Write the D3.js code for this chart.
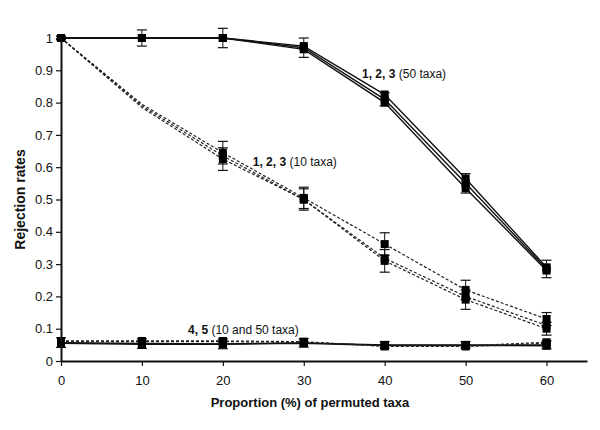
<!DOCTYPE html>
<html>
<head>
<meta charset="utf-8">
<script src="https://cdn.jsdelivr.net/npm/d3@7"></script>
<style>
  body { margin: 0; background: #fff; }
  svg text { font-family: "Liberation Sans", Arial, sans-serif; }
</style>
</head>
<body>
<div id="chart"></div>
<script>
// proportion of permuted taxa (%)
const proportions = [0, 10, 20, 30, 40, 50, 60];
const yTicks = [0, 0.1, 0.2, 0.3, 0.4, 0.5, 0.6, 0.7, 0.8, 0.9, 1];

// tests 1, 2, 3 with 50 taxa (solid)
const t1_50 = [1, 1, 1, 0.975, 0.825, 0.565, 0.29];
const t2_50 = [1, 1, 1, 0.97, 0.81, 0.55, 0.285];
const t3_50 = [1, 1, 1, 0.965, 0.80, 0.535, 0.28];
const err50 = [0.005, 0.025, 0.03, 0.03, 0.02, 0.03, 0.027];

// tests 1, 2, 3 with 10 taxa (dashed); no marker at 10 %
const t1_10 = [1, 0.795, 0.645, 0.505, 0.362, 0.22, 0.13];
const t2_10 = [1, 0.79, 0.635, 0.50, 0.318, 0.20, 0.11];
const t3_10 = [1, 0.785, 0.625, 0.50, 0.31, 0.19, 0.10];
const err10 = [0.005, null, 0.035, 0.033, 0.035, 0.03, 0.02];

// tests 4, 5 (10 and 50 taxa)
const t4_50 = [0.055, 0.052, 0.052, 0.055, 0.048, 0.048, 0.047];
const t5_50 = [0.057, 0.054, 0.053, 0.056, 0.05, 0.05, 0.05];
const t4_10 = [0.062, 0.062, 0.062, 0.06, 0.045, 0.045, 0.055];
const t5_10 = [0.06, 0.06, 0.06, 0.058, 0.047, 0.047, 0.058];
const err45 = [0.015, 0.015, 0.015, 0.013, 0.01, 0.01, 0.012];

// bars: draw error bars for this series (one per group, they overlap otherwise)
const series = [
  { v: t1_50, err: err50, dash: null, bars: false },
  { v: t2_50, err: err50, dash: null, bars: true },
  { v: t3_50, err: err50, dash: null, bars: false },
  { v: t1_10, err: err10, dash: '3,2', bars: true },
  { v: t2_10, err: err10, dash: '3,2', bars: false },
  { v: t3_10, err: err10, dash: '3,2', bars: true },
  { v: t4_50, err: err45, dash: null, bars: false },
  { v: t5_50, err: err45, dash: null, bars: true },
  { v: t4_10, err: err45, dash: '3,2', bars: false },
  { v: t5_10, err: err45, dash: '3,2', bars: false }
];

const width = 600, height = 430;
const margin = { top: 38, right: 13, bottom: 69, left: 61 };

const svg = d3.select('#chart').append('svg')
  .attr('width', width)
  .attr('height', height);

const x = d3.scaleLinear().domain([0, 65]).range([margin.left, width - margin.right]);
const y = d3.scaleLinear().domain([0, 1]).range([height - margin.bottom, margin.top]);

// lines
const line = d3.line()
  .x((d, i) => x(proportions[i]))
  .y(d => y(d));

svg.selectAll('.series')
  .data(series)
  .enter()
  .append('path')
  .attr('class', 'series')
  .attr('d', d => line(d.v))
  .attr('fill', 'none')
  .attr('stroke', d => d.dash ? '#222' : '#111')
  .attr('stroke-width', d => d.dash ? 1.2 : 1.4)
  .attr('stroke-dasharray', d => d.dash);

// error bars + markers
const pts = [];
series.forEach(s => {
  s.v.forEach((v, i) => {
    if (s.err[i] !== null) pts.push({ x: proportions[i], v: v, e: s.err[i], bars: s.bars });
  });
});

const g = svg.append('g');
pts.filter(p => p.bars).forEach(p => {
  const cx = x(p.x);
  g.append('line')
    .attr('x1', cx).attr('x2', cx)
    .attr('y1', y(p.v + p.e)).attr('y2', y(p.v - p.e))
    .attr('stroke', '#111').attr('stroke-width', 1);
  [p.v + p.e, p.v - p.e].forEach(b => {
    g.append('line')
      .attr('x1', cx - 5).attr('x2', cx + 5)
      .attr('y1', y(b)).attr('y2', y(b))
      .attr('stroke', '#111').attr('stroke-width', 1.2);
  });
});

svg.selectAll('.marker')
  .data(pts)
  .enter()
  .append('rect')
  .attr('class', 'marker')
  .attr('x', d => x(d.x) - 4)
  .attr('y', d => y(d.v) - 4)
  .attr('width', 8)
  .attr('height', 8)
  .attr('fill', '#000');

// axes
const xAxis = svg.append('g')
  .attr('transform', `translate(0, ${y(0)})`)
  .call(d3.axisBottom(x).tickValues(proportions).tickSize(5).tickSizeOuter(0).tickPadding(10));

const yAxis = svg.append('g')
  .attr('transform', `translate(${x(0)}, 0)`)
  .call(d3.axisLeft(y).tickValues(yTicks).tickSize(5).tickSizeOuter(0).tickFormat(d => String(+d.toFixed(1))));

[xAxis, yAxis].forEach(a => {
  a.select('.domain').attr('stroke', '#111').attr('stroke-width', 2);
  a.selectAll('.tick line').attr('stroke', '#111').attr('stroke-width', 1.2);
  a.selectAll('.tick text').attr('fill', '#111').style('font-size', '13px');
});

// axis titles
svg.append('text')
  .attr('x', (x(0) + x(65)) / 2 - 14)
  .attr('y', 407)
  .attr('text-anchor', 'middle')
  .style('font-size', '13px')
  .style('font-weight', 'bold')
  .attr('fill', '#111')
  .text('Proportion (%) of permuted taxa');

svg.append('text')
  .attr('transform', `translate(25, ${y(0.5)}) rotate(-90)`)
  .attr('text-anchor', 'middle')
  .style('font-size', '14px')
  .style('font-weight', 'bold')
  .attr('fill', '#111')
  .text('Rejection rates');

// annotations
const notes = [
  { bold: '1, 2, 3', rest: ' (50 taxa)', at: [37.2, 0.875] },
  { bold: '1, 2, 3', rest: ' (10 taxa)', at: [23.7, 0.605] },
  { bold: '4, 5', rest: ' (10 and 50 taxa)', at: [15.7, 0.085] }
];
notes.forEach(n => {
  const t = svg.append('text')
    .attr('x', x(n.at[0]))
    .attr('y', y(n.at[1]))
    .style('font-size', '12px')
    .attr('fill', '#111');
  t.append('tspan').style('font-weight', 'bold').text(n.bold);
  t.append('tspan').text(n.rest);
});
</script>
</body>
</html>
